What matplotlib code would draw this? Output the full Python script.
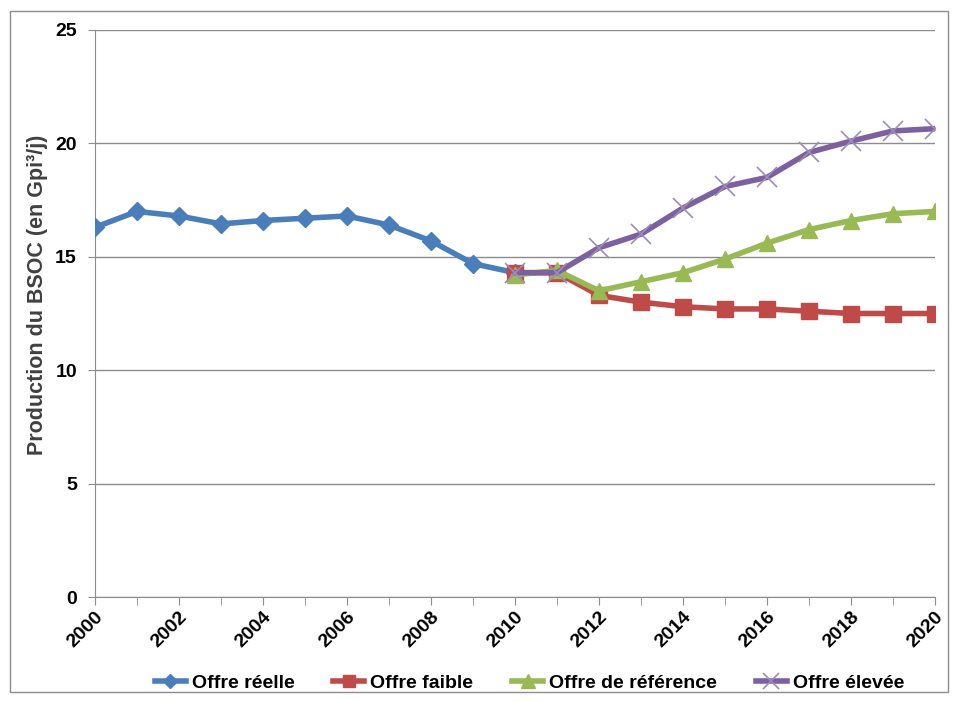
import numpy as np
import matplotlib.pyplot as plt
from matplotlib.patches import Rectangle

# Production du BSOC, historique et scénarios
annees_reel = list(range(2000, 2011))
offre_reelle = [16.3, 17.0, 16.8, 16.45, 16.6, 16.7, 16.8, 16.4, 15.7, 14.7, 14.3]

annees_proj = list(range(2010, 2021))
offre_faible = [14.3, 14.3, 13.3, 13.0, 12.8, 12.7, 12.7, 12.6, 12.5, 12.5, 12.5]
offre_reference = [14.2, 14.4, 13.5, 13.9, 14.3, 14.9, 15.6, 16.2, 16.6, 16.9, 17.0]
offre_elevee = [14.3, 14.3, 15.4, 16.0, 17.15, 18.1, 18.5, 19.6, 20.1, 20.55, 20.65]

plt.rcParams['font.family'] = ['Liberation Sans', 'DejaVu Sans']

fig = plt.figure(figsize=(9.54, 7.02), dpi=100)
ax = fig.add_axes([95/954, 1 - 597/702, 840/954, 567/702])

# cadre gris autour du graphique
fig.patches.append(Rectangle((10/954, 10/702), 938/954, 681/702, transform=fig.transFigure,
                             fill=False, edgecolor='#8c8c8c', linewidth=1))

ax.plot(annees_reel, offre_reelle, color='#4A7EBB', marker='D', markersize=9, linewidth=4,
        label='Offre réelle', zorder=3)
ax.plot(annees_proj, offre_faible, color='#BE4B48', marker='s', markersize=11, linewidth=4,
        label='Offre faible', zorder=3)
ax.plot(annees_proj, offre_reference, color='#98B954', marker='^', markersize=12, linewidth=4,
        label='Offre de référence', zorder=4)
ax.plot(annees_proj, offre_elevee, color='#7D60A0', marker='x', markersize=14, linewidth=4,
        markeredgecolor='#9c8cbc', markeredgewidth=1.2, label='Offre élevée', zorder=5)

ax.set_xlim(2000, 2020)
ax.set_ylim(0, 25)
ax.set_yticks([0, 5, 10, 15, 20, 25])
ax.set_xticks(range(2000, 2021, 2))
ax.set_xticks(range(2000, 2021), minor=True)
ax.grid(axis='y', color='#8c8c8c', linewidth=1)
ax.set_axisbelow(True)

for s in ['top', 'right']:
    ax.spines[s].set_visible(False)
for s in ['left', 'bottom']:
    ax.spines[s].set_color('#8c8c8c')
ax.tick_params(axis='y', length=5, color='#8c8c8c', labelsize=14, pad=8)
ax.tick_params(axis='x', which='both', length=6, direction='out', color='#8c8c8c',
               labelsize=14, pad=2)
for lbl in ax.get_yticklabels():
    lbl.set_fontweight('bold')
for lbl in ax.get_xticklabels():
    lbl.set_fontweight('bold')
    lbl.set_rotation(45)
    lbl.set_ha('right')
    lbl.set_rotation_mode('anchor')

ax.set_ylabel('Production du BSOC (en Gpi³/j)', fontsize=15.5, fontweight='bold',
              color='#404040')
ax.yaxis.set_label_coords(-0.056, 0.533)

fig.legend(loc='center', bbox_to_anchor=(0.555, 1 - 683/702), ncol=4, frameon=False,
           prop={'size': 14, 'weight': 'bold'}, handlelength=1.6, handletextpad=0.3,
           columnspacing=2.0, markerscale=0.8)

fig.savefig('out.png', dpi=100)
